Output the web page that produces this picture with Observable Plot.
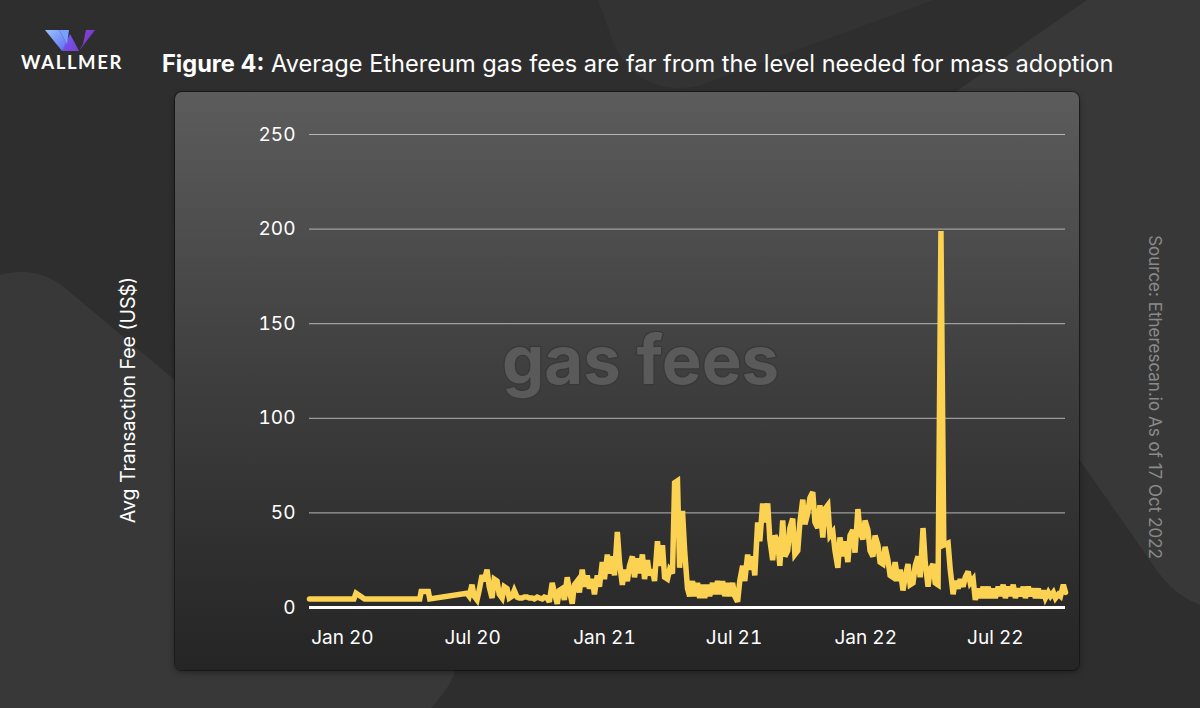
<!DOCTYPE html>
<html><head><meta charset="utf-8">
<script src="https://cdn.jsdelivr.net/npm/d3@7"></script>
<script src="https://cdn.jsdelivr.net/npm/@observablehq/plot@0.6"></script>
<style>
html,body{margin:0;padding:0;background:#2d2d2d;}
#root{position:relative;width:1200px;height:708px;overflow:hidden;background:#2e2e2e;font-family:Inter,"Noto Sans",sans-serif;}
.deco{position:absolute;background:#383838;border-radius:70px;}
#panel{position:absolute;left:175px;top:92px;width:904px;height:578px;border-radius:7px;background:linear-gradient(180deg,#5c5c5c 0%,#3e3e3e 50%,#252525 100%);box-shadow:0 0 0 1px rgba(0,0,0,0.4),0 2px 6px rgba(0,0,0,0.4);}
#chart{position:absolute;left:175px;top:92px;}
#title{position:absolute;left:162px;top:49px;color:#fff;font-size:23.6px;white-space:nowrap;}
#title b{font-weight:700;}
#ylab{position:absolute;left:128px;top:400px;transform:translate(-50%,-50%) rotate(-90deg);color:#fff;font-size:19.5px;white-space:nowrap;}
#source{position:absolute;left:1155px;top:397px;transform:translate(-50%,-50%) rotate(90deg);color:#8a8a8a;font-size:17px;white-space:nowrap;}
#logo{position:absolute;left:0;top:0;}
#brand{position:absolute;left:18px;top:51px;width:108px;text-align:center;color:#fff;font-family:Lato,"Open Sans",sans-serif;font-weight:700;font-size:18.5px;letter-spacing:1.6px;}
</style>
</head><body>
<div id="root">
  <div class="deco" style="left:-260px;top:370px;width:620px;height:620px;transform:rotate(40deg);"></div>
  <div class="deco" style="left:1000px;top:-20px;width:420px;height:600px;transform:rotate(-35deg);border-radius:90px;"></div>
  <div class="deco" style="left:560px;top:-330px;width:520px;height:360px;transform:rotate(-20deg);background:#333333;"></div>
  <svg id="logo" width="130" height="56">
    <defs>
      <linearGradient id="g1" x1="0" y1="0" x2="1" y2="1"><stop offset="0" stop-color="#9cc4ff"/><stop offset="1" stop-color="#5b6cf2"/></linearGradient>
      <linearGradient id="g2" x1="0" y1="0" x2="1" y2="1"><stop offset="0" stop-color="#6f5df0"/><stop offset="1" stop-color="#7b3fd6"/></linearGradient>
      <linearGradient id="g3" x1="0" y1="0" x2="1" y2="1"><stop offset="0" stop-color="#8a47e0"/><stop offset="1" stop-color="#6a2fbf"/></linearGradient>
    </defs>
    <polygon points="45,30 59,30 67,44 62,51" fill="url(#g1)"/>
    <polygon points="62,51 70,34 79,51" fill="url(#g2)"/>
    <polygon points="79,51 83,44 86,30 95,30" fill="url(#g3)"/>
    <polygon points="59,30 69,30 67,44" fill="#7aa0ff"/>
  </svg>
  <div id="brand">WALLMER</div>
  <div id="title"><b>Figure 4:</b> Average Ethereum gas fees are far from the level needed for mass adoption</div>
  <div id="panel"></div>
  <div id="chart"></div>
  <div id="ylab">Avg Transaction Fee (US$)</div>
  <div id="source">Source: Etherescan.io As of 17 Oct 2022</div>
</div>
<script>
// ---- data ----
const dates = [
  "2019-11-16","2020-01-17","2020-01-20","2020-02-01","2020-04-18","2020-04-20","2020-04-30","2020-05-02",
  "2020-06-23","2020-06-26","2020-06-30","2020-07-03","2020-07-07","2020-07-10","2020-07-14","2020-07-17",
  "2020-07-21","2020-07-24","2020-07-28","2020-07-31","2020-08-04","2020-08-07","2020-08-11","2020-08-14",
  "2020-08-18","2020-08-21","2020-08-25","2020-08-28","2020-09-01","2020-09-04","2020-09-08","2020-09-11",
  "2020-09-15","2020-09-18","2020-09-22","2020-09-25","2020-09-29","2020-10-02","2020-10-06","2020-10-09",
  "2020-10-13","2020-10-16","2020-10-20","2020-10-23","2020-10-27","2020-10-30","2020-11-03","2020-11-06",
  "2020-11-10","2020-11-13","2020-11-17","2020-11-20","2020-11-24","2020-11-27","2020-12-01","2020-12-04",
  "2020-12-08","2020-12-11","2020-12-15","2020-12-18","2020-12-22","2020-12-25","2020-12-29","2021-01-01",
  "2021-01-05","2021-01-08","2021-01-12","2021-01-15","2021-01-19","2021-01-22","2021-01-26","2021-01-29",
  "2021-02-02","2021-02-05","2021-02-09","2021-02-12","2021-02-16","2021-02-19","2021-02-23","2021-02-26",
  "2021-03-02","2021-03-05","2021-03-09","2021-03-12","2021-03-16","2021-03-19","2021-03-23","2021-03-26",
  "2021-03-30","2021-04-02","2021-04-06","2021-04-09","2021-04-13","2021-04-16","2021-04-20","2021-04-23",
  "2021-04-27","2021-04-30","2021-05-04","2021-05-07","2021-05-11","2021-05-14","2021-05-18","2021-05-21",
  "2021-05-25","2021-05-28","2021-06-01","2021-06-04","2021-06-08","2021-06-11","2021-06-15","2021-06-18",
  "2021-06-22","2021-06-25","2021-06-29","2021-07-02","2021-07-06","2021-07-09","2021-07-13","2021-07-16",
  "2021-07-20","2021-07-23","2021-07-27","2021-07-30","2021-08-03","2021-08-06","2021-08-10","2021-08-13",
  "2021-08-17","2021-08-20","2021-08-24","2021-08-27","2021-08-31","2021-09-03","2021-09-07","2021-09-10",
  "2021-09-14","2021-09-17","2021-09-21","2021-09-24","2021-09-28","2021-10-01","2021-10-05","2021-10-08",
  "2021-10-12","2021-10-15","2021-10-19","2021-10-22","2021-10-26","2021-10-29","2021-11-02","2021-11-05",
  "2021-11-09","2021-11-12","2021-11-16","2021-11-19","2021-11-23","2021-11-26","2021-11-30","2021-12-03",
  "2021-12-07","2021-12-10","2021-12-14","2021-12-17","2021-12-21","2021-12-24","2021-12-28","2021-12-31",
  "2022-01-04","2022-01-07","2022-01-11","2022-01-14","2022-01-18","2022-01-21","2022-01-25","2022-01-28",
  "2022-02-01","2022-02-04","2022-02-08","2022-02-11","2022-02-15","2022-02-18","2022-02-22","2022-02-25",
  "2022-03-01","2022-03-04","2022-03-08","2022-03-11","2022-03-15","2022-03-18","2022-03-22","2022-03-25",
  "2022-03-29","2022-04-01","2022-04-05","2022-04-08","2022-04-12","2022-04-16","2022-04-20","2022-04-26",
  "2022-04-29","2022-05-03","2022-05-06","2022-05-10","2022-05-13","2022-05-17","2022-05-20","2022-05-24",
  "2022-05-27","2022-05-31","2022-06-03","2022-06-07","2022-06-10","2022-06-14","2022-06-17","2022-06-21",
  "2022-06-24","2022-06-28","2022-07-01","2022-07-05","2022-07-08","2022-07-12","2022-07-15","2022-07-19",
  "2022-07-22","2022-07-26","2022-07-29","2022-08-02","2022-08-05","2022-08-09","2022-08-12","2022-08-16",
  "2022-08-19","2022-08-23","2022-08-26","2022-08-30","2022-09-02","2022-09-06","2022-09-09","2022-09-13",
  "2022-09-16","2022-09-20","2022-09-23","2022-09-27","2022-09-30","2022-10-04","2022-10-07"
];
const fees = [
  4.5, 4.5, 7.5, 4.5, 4.5, 8.5, 8.5, 4.5,
  7.5, 6, 12, 6, 4, 9, 17, 14,
  20, 11, 5, 15, 14, 7, 5, 11,
  10, 5, 6, 9, 5.5, 5, 5, 5.5,
  5.5, 5, 5, 4.5, 5.5, 5, 4.5, 5.5,
  5, 3, 13, 8, 2, 9, 10, 4,
  16, 9, 2, 12, 14, 8, 20, 11,
  17, 10, 15, 7, 17, 11, 24, 15,
  28, 18, 27, 17, 40, 24, 12, 20,
  14, 22, 27, 16, 26, 18, 28, 15,
  25, 17, 20, 14, 35, 22, 33, 16,
  15, 20, 18, 66, 67, 21, 51, 30,
  10, 6, 14, 6, 13, 5, 12, 5,
  12, 6, 13, 7, 14, 7, 14, 6,
  13, 6, 13, 6, 3, 14, 22, 14,
  28, 20, 27, 17, 45, 35, 55, 45,
  55, 36, 25, 38, 35, 22, 46, 27,
  30, 42, 47, 28, 30, 45, 57, 44,
  50, 58, 61, 45, 42, 54, 37, 52,
  54, 38, 40, 30, 21, 37, 27, 35,
  24, 38, 41, 29, 52, 40, 36, 46,
  41, 30, 27, 38, 33, 24, 23, 32,
  25, 17, 16, 24, 14, 20, 9, 16,
  23, 12, 13, 22, 27, 16, 42, 24,
  11, 20, 23, 13, 12, 199, 33, 34,
  20, 7, 14, 10, 15, 11, 16, 19,
  13, 15, 4, 10, 5, 11, 5, 11,
  5, 10, 5, 11, 6, 12, 5, 11,
  6, 12, 5, 10, 6, 11, 5, 11,
  6, 10, 5, 10, 5, 9, 5, 8,
  6, 8, 5, 7, 6, 12, 8
];
const yTicks = [0, 50, 100, 150, 200, 250];
const xTickDates = ["2020-01-01","2020-07-01","2021-01-01","2021-07-01","2022-01-01","2022-07-01"];
const xTickLabels = ["Jan 20","Jul 20","Jan 21","Jul 21","Jan 22","Jul 22"];
const watermark = ["gas fees"];

const data = dates.map((d, i) => ({date: new Date(d), fee: fees[i]}));
const xTicks = xTickDates.map(d => new Date(d));
const labelOf = new Map(xTicks.map((d, i) => [+d, xTickLabels[i]]));

const chart = Plot.plot({
  width: 904,
  height: 578,
  marginLeft: 134,
  marginRight: 14,
  marginTop: 42,
  marginBottom: 63,
  style: {background: "transparent", color: "white", fontFamily: "Inter, 'Noto Sans', sans-serif"},
  x: {type: "utc", domain: [new Date("2019-11-16"), new Date("2022-10-07")]},
  y: {domain: [0, 250]},
  marks: [
    Plot.text(watermark, {text: d => d, frameAnchor: "middle", dx: -47, dy: -8, fontSize: 67, fontWeight: "bold",
      fill: "#5a5a5a", stroke: "#383838", strokeWidth: 2.5}),
    Plot.gridY(yTicks.filter(d => d > 0), {stroke: "#b5b5b5", strokeOpacity: 1, strokeWidth: 1}),
    Plot.axisY(yTicks, {tickSize: 0, tickPadding: 14, fontSize: 19, fill: "white", label: null}),
    Plot.axisX(xTicks, {tickSize: 0, tickPadding: 23, fontSize: 19, fill: "white", label: null,
      tickFormat: d => labelOf.get(+d)}),
    Plot.lineY(data, {x: "date", y: "fee", stroke: "#fcd252", strokeWidth: 5.5, strokeLinejoin: "miter", strokeMiterlimit: 3}),
    Plot.ruleY([0], {stroke: "white", strokeWidth: 3})
  ]
});
document.getElementById("chart").appendChild(chart);
</script>
</body></html>
